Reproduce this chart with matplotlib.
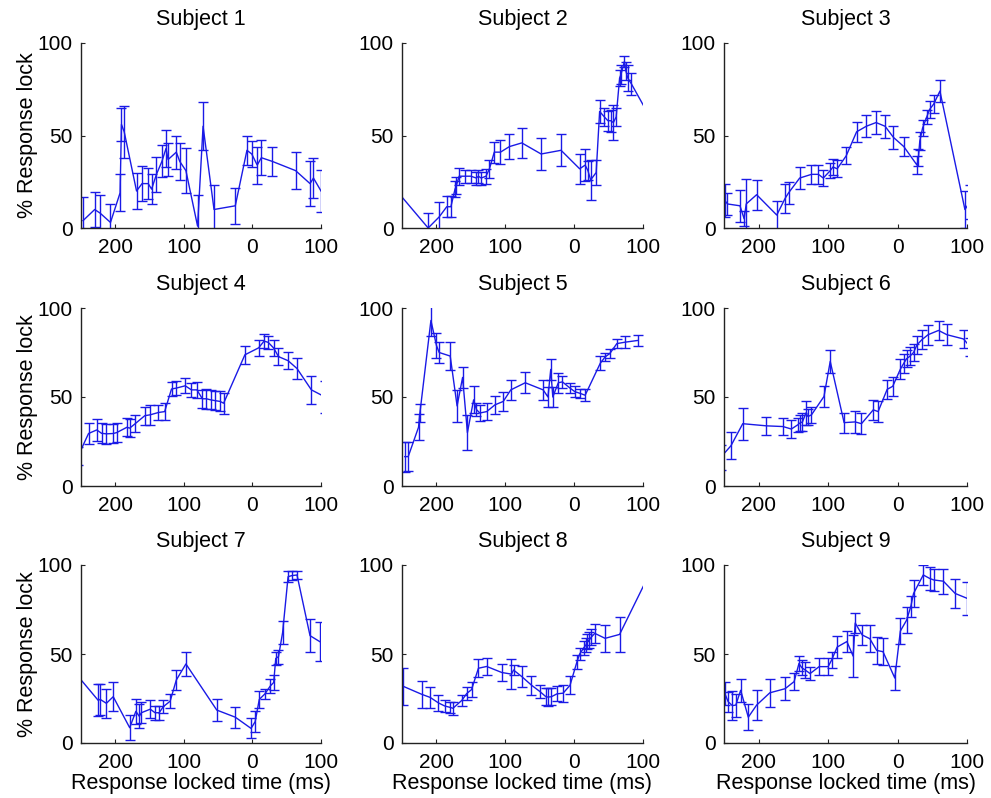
import numpy as np
import matplotlib.pyplot as plt

plt.rcParams['font.family'] = ['Liberation Sans', 'DejaVu Sans']

# time (ms, relative to response), % response lock, error half-width
t1 = [-247, -230, -222, -207, -193, -191, -187, -169, -161, -152, -147, -140, -132, -126, -123,
      -111, -106, -97, -80, -72, -56, -25, -8, -1, 7, 13, 29, 63, 84, 89, 100]
y1 = [4, 10, 8, 3, 19, 56, 52, 20, 24, 24, 21, 29, 36, 43, 37, 41, 36, 31, 1, 55, 10, 12, 42, 40,
      34, 38, 36, 31, 24, 27, 20]
e1 = [13, 9.5, 10, 10, 10, 9, 14, 9.6, 9.3, 8.4, 8, 9.4, 8.6, 10, 9, 9, 10, 12, 17, 13, 13, 9.6, 8,
      7, 10, 9.5, 8, 10, 12, 11, 11.5]

t2 = [-262, -212, -196, -185, -179, -173, -171, -167, -158, -150, -142, -139, -135, -128, -123,
      -116, -107, -94, -76, -48, -19, 8, 16, 20, 24, 32, 37, 44, 49, 53, 57, 61, 66, 68, 73, 75, 78,
      83, 110]
y2 = [22, 0, 6, 11.5, 11.5, 21, 23, 28, 28, 28, 27, 28, 27, 28, 32, 41, 41, 44, 46, 40, 42, 32, 34,
      31, 26, 30, 63, 60, 58, 58, 57, 60, 81, 83, 90, 85, 81, 78, 60]
e2 = [8, 8, 8, 5.6, 5.6, 4.5, 4.5, 4.7, 3.5, 3.5, 3.5, 3.5, 3.5, 4, 5, 5.7, 6.4, 6.8, 8, 8.5, 8.7, 8,
      8.7, 5, 10.7, 7, 6, 5, 5.3, 6, 9.4, 5, 4.4, 5, 3, 5, 7, 6, 5]

t3 = [-249, -245, -227, -221, -218, -203, -174, -162, -157, -141, -124, -114, -107, -97, -93, -87,
      -74, -59, -45, -31, -18, -6, 9, 28, 30, 32, 36, 42, 46, 52, 61, 97, 104]
y3 = [15, 13, 12, 5, 13, 18, 7, 16, 19, 27, 29, 29, 27, 31, 33, 32, 39, 52, 55, 57, 55, 49, 44, 34,
      38, 47, 54, 60, 64, 67, 74, 10, 14]
e3 = [9, 6, 8.6, 4, 13.5, 8, 7.5, 8, 6, 6, 5, 5, 4.5, 4, 4.5, 4.5, 4.6, 5.4, 6, 6, 6.3, 6.2, 5.3, 4.7,
      4.5, 5, 4.5, 4, 4.8, 5, 6, 9.8, 9]

t4 = [-254, -239, -227, -220, -213, -203, -198, -183, -179, -171, -157, -149, -137, -128, -118,
      -111, -98, -89, -81, -73, -67, -61, -55, -47, -42, -11, 9, 17, 23, 31, 38, 52, 65, 86, 106]
y4 = [17, 29.5, 31.5, 29.6, 29.3, 29.5, 30, 33, 32.5, 35, 39.5, 40, 41.3, 41.8, 54.5, 55, 56.3,
      54, 54, 49, 49, 48.4, 48, 47.5, 46.5, 73.7, 77.6, 81.4, 80.7, 77.5, 72.7, 70.4, 66, 54, 50]
e4 = [5, 5.9, 6, 5.6, 5.6, 5.6, 5.5, 5, 5, 4.7, 5, 5.6, 4.3, 5, 4.2, 4, 4.3, 4, 4.7, 5.2, 5.6, 5.4,
      5.4, 5.6, 6, 5, 4.6, 4, 3.6, 4.7, 4.7, 4.7, 6, 8, 9]

t5 = [-246, -241, -226, -224, -208, -200, -196, -180, -170, -162, -155, -146, -142, -137, -127,
      -115, -103, -92, -71, -45, -38, -34, -31, -23, -17, -6, 1, 9, 16, 38, 45, 52, 62, 74, 93]
y5 = [16.5, 16.5, 33, 41, 93, 79, 75, 73, 45, 61, 30, 48.4, 43, 41, 41.8, 45.6, 47.5, 54, 58, 54,
      50, 65.5, 50, 58, 58.5, 55, 53, 52, 51, 69, 72.5, 74.5, 80, 80.8, 81.8]
e5 = [8.5, 8, 7.3, 5, 9, 7, 6, 8, 9, 6, 9.7, 7.5, 3.8, 4.7, 4.7, 5, 5.4, 5.6, 5.8, 5.6, 5.6, 6, 5.6,
      5.6, 3.3, 2.8, 3, 2.5, 3.3, 3.8, 2.3, 2.5, 2.4, 3.3, 3.3]

t6 = [-255, -240, -223, -189, -165, -153, -144, -141, -137, -132, -129, -124, -106, -97, -77, -61,
      -52, -35, -28, -15, -7, 4, 9, 13, 18, 23, 28, 35, 44, 59, 71, 95, 105]
y6 = [16, 22.6, 35, 33.8, 33.4, 32, 34.3, 35.3, 36, 41, 39, 40, 50.3, 70, 35.6, 36, 35, 42.8, 41.8,
      54.3, 56, 65.6, 69, 71.5, 73, 75, 79.3, 82.2, 85, 87.4, 85, 82.6, 78]
e6 = [7, 7.5, 9, 5, 5, 5, 4, 4.5, 5, 6.5, 4.5, 4.5, 6, 6.6, 5.6, 6.2, 6, 5.6, 5.8, 5.5, 5.2, 5.5, 5.4,
      4.7, 5.2, 4.7, 5, 5.2, 5.6, 5.2, 6, 5, 5.2]

t7 = [-262, -225, -222, -213, -203, -179, -170, -165, -162, -149, -142, -136, -130, -120, -111,
      -97, -52, -25, -2, 4, 10, 18, 26, 31, 34, 38, 44, 52, 57, 65, 84, 98]
y7 = [41, 24, 24.5, 22.3, 26, 8.6, 17.8, 15, 17, 19, 17, 17, 20.4, 23.5, 35.4, 44.4, 18.5, 14.5,
      8.2, 12, 24.5, 27.5, 32, 34, 47.5, 48.5, 62, 93.4, 94, 94.4, 60.3, 57]
e7 = [8, 9, 8.5, 8, 8, 7, 7, 6.7, 6, 5, 3.8, 4, 3.5, 4, 5.6, 6.5, 6, 6, 5.6, 6, 4.9, 2.8, 3.7, 4,
      3.9, 4, 6.5, 3, 2.6, 2.3, 9.4, 10.7]

t8 = [-248, -221, -209, -197, -188, -180, -176, -163, -156, -149, -139, -127, -105, -91, -88, -76,
      -62, -50, -41, -38, -33, -25, -16, -6, 4, 8, 14, 17, 19, 22, 25, 30, 45, 66, 108]
y8 = [31.8, 27.3, 25.6, 22.5, 20.8, 20, 19.5, 24, 27.8, 30, 42, 43, 39.6, 38.7, 41, 37.3, 32.5,
      29, 26, 25.8, 26, 27.6, 28, 32.4, 45.5, 50, 53.5, 55, 57, 58, 59.5, 61.6, 58.8, 61, 94]
e8 = [10.5, 7.5, 6, 4.5, 3.3, 3.3, 3.8, 3.2, 3.8, 4.4, 5, 5, 5, 8.4, 3, 5.8, 5.3, 3.8, 4.9, 4.9, 4.9,
      4.2, 4.7, 5, 4.2, 3.5, 4, 4, 4, 4.5, 4.5, 5.5, 7.5, 10, 8]

t9 = [-249, -244, -238, -233, -226, -215, -203, -184, -162, -149, -142, -138, -133, -126, -113,
      -100, -95, -87, -73, -64, -61, -51, -40, -30, -21, -4, 4, 13, 19, 23, 37, 46, 52, 66, 83, 100]
y9 = [28, 23.2, 21, 21.3, 29.6, 14.5, 21.3, 28.2, 30.5, 34.5, 44.7, 42.3, 41, 39, 42.9, 42.9,
      46.6, 53.9, 57, 48.8, 67.4, 60.7, 58.6, 52, 51.3, 36.5, 62.9, 69, 76.6, 84, 94.4, 92.5, 91.6,
      90.9, 84, 81.3]
e9 = [6.5, 5.6, 8, 6.5, 6.4, 7.2, 8.4, 7.8, 6.3, 5, 4.3, 4.3, 4.3, 3.5, 4.7, 4.7, 4.5, 6.4, 6, 12,
      5.6, 5.6, 7.5, 7.5, 7.5, 6.6, 7.5, 7.4, 6, 7.5, 5.6, 6.5, 6, 7, 8.3, 9.4]

times = [t1, t2, t3, t4, t5, t6, t7, t8, t9]
means = [y1, y2, y3, y4, y5, y6, y7, y8, y9]
errs = [e1, e2, e3, e4, e5, e6, e7, e8, e9]

xticks = [-200, -100, 0, 100]
xticklabels = ['200', '100', '0', '100']
yticks = [0, 50, 100]

# axes boxes in pixels (left, top, right, bottom) on a 991x798 canvas
col_px = [(81, 321), (402, 643), (724, 967)]
row_px = [(43, 228), (308, 486), (565, 743)]

W, H = 991, 798
fig = plt.figure(figsize=(W / 100, H / 100), dpi=100)
blue = (0.1, 0.1, 0.9)

for i in range(9):
    r, c = divmod(i, 3)
    x0, x1 = col_px[c]
    y0, y1 = row_px[r]
    ax = fig.add_axes([x0 / W, 1 - y1 / H, (x1 - x0) / W, (y1 - y0) / H])
    ax.errorbar(times[i], means[i], yerr=errs[i], color=blue, lw=1.0, elinewidth=1.0,
                capsize=3.5, capthick=1.0)
    ax.set_xlim(-250, 100)
    ax.set_ylim(0, 100)
    ax.set_xticks(xticks)
    ax.set_xticklabels(xticklabels)
    ax.set_yticks(yticks)
    ax.tick_params(direction='in', length=3, labelsize=15, color='#222222')
    ax.tick_params(axis='x', pad=7)
    ax.tick_params(axis='y', pad=6)
    for s in ['top', 'right']:
        ax.spines[s].set_visible(False)
    for s in ['left', 'bottom']:
        ax.spines[s].set_color('#222222')
        ax.spines[s].set_linewidth(1.0)
    ax.set_title('Subject %d' % (i + 1), fontsize=15.5, pad=13)
    if c == 0:
        ax.set_ylabel('% Response lock', fontsize=15.5, labelpad=0)
    if r == 2:
        ax.set_xlabel('Response locked time (ms)', fontsize=15.5, labelpad=1)

plt.savefig('out.png', dpi=100)
